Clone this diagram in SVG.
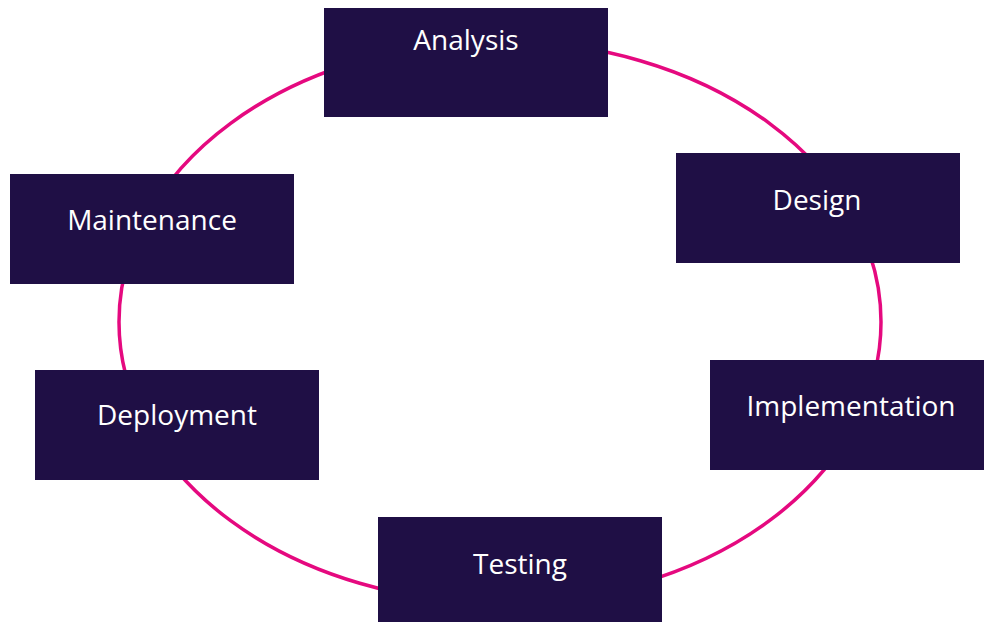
<svg xmlns="http://www.w3.org/2000/svg" width="984" height="622" viewBox="0 0 984 622">
  <style>
    .box { fill: #1f0f45; }
    .label { fill: #ffffff; font-family: "Open Sans", "Liberation Sans", sans-serif; font-size: 28px; text-anchor: middle; }
    .cycle { fill: none; stroke: #e5097f; stroke-width: 3.5; }
  </style>
  <rect width="984" height="622" fill="#ffffff"/>
  <g id="connectors">
    <ellipse class="cycle" cx="500" cy="322" rx="381" ry="281"/>
  </g>
  <g id="analysis">
    <rect class="box" x="324" y="8" width="284" height="109"/>
    <text class="label" x="466" y="50">Analysis</text>
  </g>
  <g id="design">
    <rect class="box" x="676" y="153" width="284" height="110"/>
    <text class="label" x="817" y="210">Design</text>
  </g>
  <g id="implementation">
    <rect class="box" x="710" y="360" width="274" height="110"/>
    <text class="label" x="851" y="416">Implementation</text>
  </g>
  <g id="testing">
    <rect class="box" x="378" y="517" width="284" height="105"/>
    <text class="label" x="520" y="574">Testing</text>
  </g>
  <g id="deployment">
    <rect class="box" x="35" y="370" width="284" height="110"/>
    <text class="label" x="177" y="425">Deployment</text>
  </g>
  <g id="maintenance">
    <rect class="box" x="10" y="174" width="284" height="110"/>
    <text class="label" x="152" y="230">Maintenance</text>
  </g>
</svg>
